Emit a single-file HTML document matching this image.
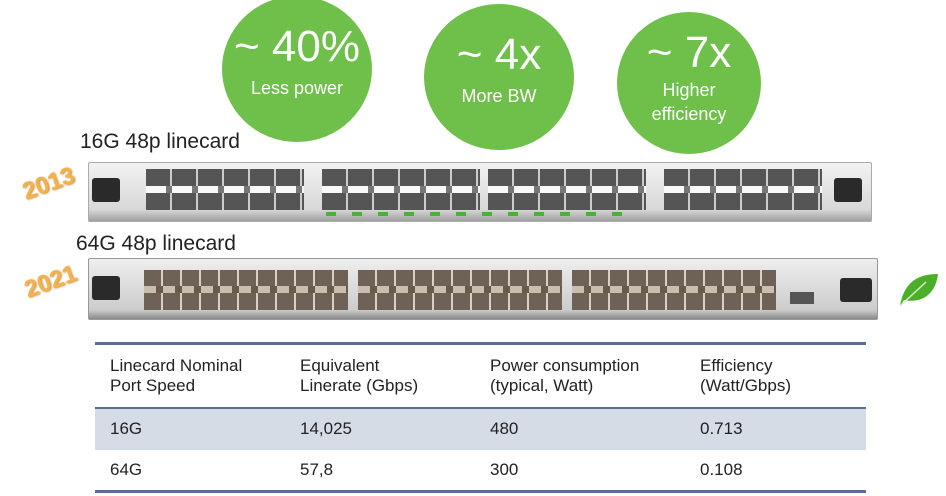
<!DOCTYPE html>
<html><head><style>
body{margin:0;width:946px;height:496px;background:#fff;position:relative;overflow:hidden;font-family:"Liberation Sans",sans-serif}
.c{position:absolute;border-radius:50%;background:#6fbf4b;color:#fff;text-align:center}
.big{font-size:44px;line-height:46px}
.sm{font-size:18px;line-height:24px}
.abs{position:absolute}
.lbl{font-size:21px;color:#222}
.yr{font-size:24px;color:#f0a020;font-weight:bold;transform:rotate(-20deg);text-shadow:1px 1px 2px #c07010;opacity:.8}
.card1{background:linear-gradient(#f2f2f2,#d8d8d8 80%,#a0a0a0);border:1px solid #aaa}
.ports1{position:absolute;background:repeating-linear-gradient(90deg,#555 0 24px,#ccc 24px 26px);}
.ports1:after{content:"";position:absolute;left:0;right:0;top:42%;height:16%;background:repeating-linear-gradient(90deg,#f8f8f8 0 20px,#777 20px 26px)}
.card2{background:linear-gradient(#eee,#ccc 85%,#888);border:1px solid #999}
.ports2{position:absolute;background:repeating-linear-gradient(90deg,#6e6256 0 17px,#d8d0c4 17px 19px)}
.ports2:after{content:"";position:absolute;left:0;right:0;top:40%;height:18%;background:repeating-linear-gradient(90deg,#c8bfb0 0 12px,#6a5a4a 12px 19px)}
.latch{position:absolute;background:#2a2a2a;border-radius:3px}
table{position:absolute;left:95px;top:342px;width:771px;border-collapse:collapse;font-size:17px;color:#222}
td{padding:0 0 0 15px;vertical-align:middle}
</style></head><body>
<div class="c" style="left:222px;top:-4px;width:150px;height:146px"><div class="big" style="margin-top:28px">~ 40%</div><div class="sm" style="margin-top:6px">Less power</div></div>
<div class="c" style="left:424px;top:4px;width:150px;height:146px"><div class="big" style="margin-top:28px">~ 4x</div><div class="sm" style="margin-top:6px">More BW</div></div>
<div class="c" style="left:617px;top:12px;width:144px;height:142px"><div class="big" style="margin-top:18px">~ 7x</div><div class="sm" style="margin-top:2px">Higher<br>efficiency</div></div>

<div class="abs lbl" style="left:80px;top:130px">16G 48p linecard</div>
<div class="abs yr" style="left:22px;top:170px">2013</div>
<div class="abs card1" style="left:88px;top:162px;width:782px;height:58px;border-radius:2px"></div>
<div class="latch" style="left:92px;top:178px;width:28px;height:24px"></div>
<div class="latch" style="left:834px;top:178px;width:28px;height:24px"></div>
<div class="ports1" style="left:146px;top:169px;width:158px;height:41px"></div>
<div class="ports1" style="left:322px;top:169px;width:158px;height:41px"></div>
<div class="ports1" style="left:488px;top:169px;width:158px;height:41px"></div>
<div class="ports1" style="left:664px;top:169px;width:158px;height:41px"></div>
<div class="abs" style="left:326px;top:212px;width:312px;height:4px;background:repeating-linear-gradient(90deg,#4caf3a 0 10px,transparent 10px 26px)"></div>

<div class="abs lbl" style="left:76px;top:232px">64G 48p linecard</div>
<div class="abs yr" style="left:24px;top:268px">2021</div>
<div class="abs card2" style="left:88px;top:258px;width:788px;height:60px;border-radius:2px"></div>
<div class="latch" style="left:92px;top:276px;width:28px;height:24px"></div>
<div class="latch" style="left:840px;top:278px;width:32px;height:24px"></div>
<div class="ports2" style="left:144px;top:270px;width:204px;height:40px"></div>
<div class="ports2" style="left:358px;top:270px;width:204px;height:40px"></div>
<div class="ports2" style="left:572px;top:270px;width:204px;height:40px"></div>
<div class="abs" style="left:790px;top:292px;width:24px;height:12px;background:#555"></div>
<svg class="abs" style="left:896px;top:270px" width="44" height="40" viewBox="0 0 44 40"><path d="M4 36 C8 12 22 4 42 4 C40 22 28 34 8 30 Z" fill="#4caf2a"/><path d="M4 36 L30 12" stroke="#d8f0c8" stroke-width="1.5"/></svg>

<table>
<tr style="height:64px;border-top:3px solid #5a7090;border-bottom:2px solid #5a7090"><td style="width:175px">Linecard Nominal<br>Port Speed</td><td style="width:175px">Equivalent<br>Linerate (Gbps)</td><td style="width:195px">Power consumption<br>(typical, Watt)</td><td>Efficiency<br>(Watt/Gbps)</td></tr>
<tr style="height:42px;background:#d6dce6"><td>16G</td><td>14,025</td><td>480</td><td>0.713</td></tr>
<tr style="height:42px;border-bottom:3px solid #5a7090"><td>64G</td><td>57,8</td><td>300</td><td>0.108</td></tr>
</table>
</body></html>
